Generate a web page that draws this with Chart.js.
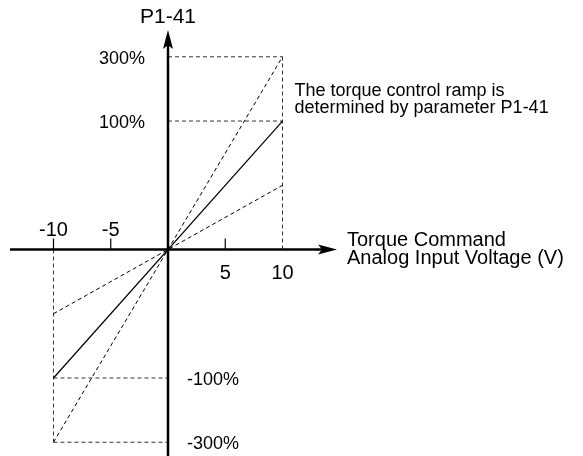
<!DOCTYPE html>
<html>
<head>
<meta charset="utf-8">
<script src="https://cdn.jsdelivr.net/npm/chart.js@4.4.1/dist/chart.umd.min.js"></script>
<style>
  html, body { margin: 0; padding: 0; background: #fff; }
  #wrap { width: 583px; height: 456px; }
</style>
</head>
<body>
<div id="wrap"><canvas id="rampChart"></canvas></div>
<script>
// Analog input voltage (V) at the ends of each ramp
const voltage = [-10, 10];
// Torque command (%) for three P1-41 settings
const rampLow = [-50, 50];
const rampMid = [-100, 100];
const rampHigh = [-300, 300];

// axis tick values / labels
const xTicks = [-10, -5, 5, 10];
const xTickLabels = ['-10', '-5', '5', '10'];
const yTicks = [300, 100, -100, -300];
const yTickLabels = ['300%', '100%', '-100%', '-300%'];

// dashed guide lines [x0, y0, x1, y1]
const guides = [
  [0, 300, 10, 300],
  [0, 100, 10, 100],
  [10, 0, 10, 300],
  [-10, 0, -10, -300],
  [-10, -100, 0, -100],
  [-10, -300, 0, -300]
];

const yTitle = 'P1-41';
const xTitle = ['Torque Command', 'Analog Input Voltage (V)'];
const note = ['The torque control ramp is', 'determined by parameter P1-41'];

const FONT = '"Liberation Sans", Arial, sans-serif';

// the drawing is schematic: 100% -> 1 unit, 300% only 1.5 units
function squash(v) {
  const a = Math.abs(v);
  const s = a <= 100 ? a / 100 : 1 + (a - 100) / 400;
  return v < 0 ? -s : s;
}
function unsquash(s) {
  const a = Math.abs(s);
  const v = a <= 1 ? a * 100 : 100 + (a - 1) * 400;
  return s < 0 ? -v : v;
}

class SchematicScale extends Chart.LinearScale {
  getPixelForValue(value) {
    return super.getPixelForValue(squash(value));
  }
  getValueForPixel(pixel) {
    return unsquash(super.getValueForPixel(pixel));
  }
}
SchematicScale.id = 'schematic';
SchematicScale.defaults = Chart.LinearScale.defaults;
Chart.register(SchematicScale);

function pts(ys) {
  return voltage.map((x, i) => ({ x: x, y: ys[i] }));
}

const datasets = [
  { data: pts(rampMid), borderColor: '#000', borderWidth: 1.2 },
  { data: pts(rampHigh), borderColor: '#000', borderWidth: 1, borderDash: [4, 3] },
  { data: pts(rampLow), borderColor: '#000', borderWidth: 1, borderDash: [4, 3] }
];
guides.forEach(g => {
  datasets.push({
    data: [{ x: g[0], y: g[1] }, { x: g[2], y: g[3] }],
    borderColor: '#333',
    borderWidth: 1,
    borderDash: [4, 3]
  });
});

// axes, arrows, ticks and all the text
const axesPlugin = {
  id: 'axesPlugin',
  afterDatasetsDraw(chart) {
    const ctx = chart.ctx;
    const xs = chart.scales.x;
    const ys = chart.scales.y;
    const area = chart.chartArea;
    const ox = xs.getPixelForValue(0);
    const oy = ys.getPixelForValue(0);

    ctx.save();
    ctx.strokeStyle = '#000';
    ctx.fillStyle = '#000';
    ctx.setLineDash([]);
    ctx.lineWidth = 2.5;

    // y axis
    const yTip = area.top + 30;
    ctx.beginPath();
    ctx.moveTo(ox, area.bottom);
    ctx.lineTo(ox, yTip + 8);
    ctx.stroke();
    ctx.beginPath();
    ctx.moveTo(ox, yTip);
    ctx.lineTo(ox + 5, yTip + 19);
    ctx.lineTo(ox, yTip + 15);
    ctx.lineTo(ox - 5, yTip + 19);
    ctx.closePath();
    ctx.fill();

    // x axis
    const xLeft = area.left + 10;
    const xTip = area.left + 337;
    ctx.beginPath();
    ctx.moveTo(xLeft, oy);
    ctx.lineTo(xTip - 8, oy);
    ctx.stroke();
    ctx.beginPath();
    ctx.moveTo(xTip, oy);
    ctx.lineTo(xTip - 19, oy - 5);
    ctx.lineTo(xTip - 15, oy);
    ctx.lineTo(xTip - 19, oy + 5);
    ctx.closePath();
    ctx.fill();

    // tick marks above the x axis
    ctx.lineWidth = 1.2;
    xTicks.forEach(t => {
      if (t === 10) return;
      const px = xs.getPixelForValue(t);
      ctx.beginPath();
      ctx.moveTo(px, oy);
      ctx.lineTo(px, oy - 11);
      ctx.stroke();
    });

    // x tick labels: negatives above, positives below
    ctx.font = '20px ' + FONT;
    ctx.textAlign = 'center';
    ctx.textBaseline = 'alphabetic';
    xTicks.forEach((t, i) => {
      const px = xs.getPixelForValue(t);
      ctx.fillText(xTickLabels[i], px, t < 0 ? oy - 14 : oy + 29);
    });

    // y tick labels: positives left, negatives right
    ctx.font = '18px ' + FONT;
    yTicks.forEach((t, i) => {
      const py = ys.getPixelForValue(t);
      if (t > 0) {
        ctx.textAlign = 'right';
        ctx.fillText(yTickLabels[i], ox - 23, py + 7);
      } else {
        ctx.textAlign = 'left';
        ctx.fillText(yTickLabels[i], ox + 19, py + 7);
      }
    });

    // y title
    ctx.font = '21px ' + FONT;
    ctx.textAlign = 'center';
    ctx.fillText(yTitle, ox, area.top + 23);

    // x title
    ctx.font = '20px ' + FONT;
    ctx.textAlign = 'left';
    ctx.fillText(xTitle[0], xTip + 10, oy - 4);
    ctx.fillText(xTitle[1], xTip + 10, oy + 14);

    // note
    ctx.font = '18px ' + FONT;
    const nx = xs.getPixelForValue(10) + 12;
    ctx.fillText(note[0], nx, area.top + 96);
    ctx.fillText(note[1], nx, area.top + 113);

    ctx.restore();
  }
};

new Chart(document.getElementById('rampChart'), {
  type: 'scatter',
  data: { datasets: datasets },
  options: {
    responsive: true,
    maintainAspectRatio: false,
    animation: false,
    layout: { padding: 0 },
    datasets: {
      scatter: { showLine: true, pointRadius: 0, fill: false, clip: false }
    },
    plugins: {
      legend: { display: false },
      tooltip: { enabled: false }
    },
    scales: {
      x: { type: 'linear', display: false, min: -14.67, max: 36.24 },
      y: { type: 'schematic', display: false, min: -1.607, max: 1.942 }
    }
  },
  plugins: [axesPlugin]
});
</script>
</body>
</html>
